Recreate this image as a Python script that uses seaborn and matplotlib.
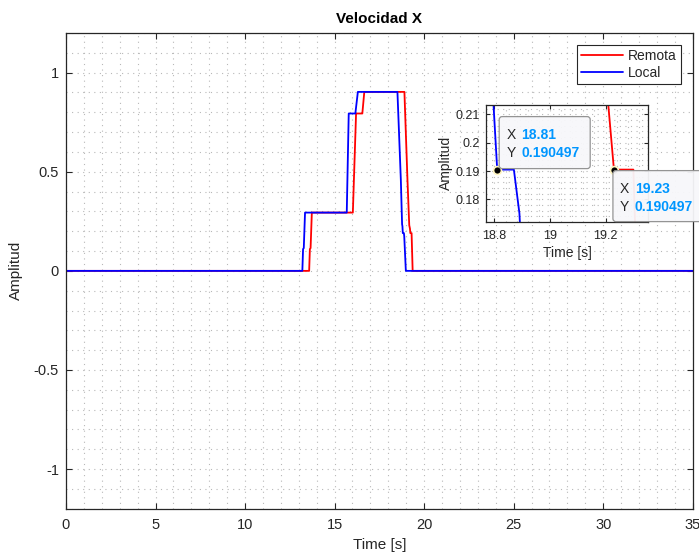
import numpy as np
import pandas as pd
import matplotlib.pyplot as plt
import matplotlib.transforms as mtransforms
from matplotlib.patches import FancyBboxPatch
from matplotlib.ticker import MultipleLocator, AutoMinorLocator, FormatStrFormatter
import seaborn as sns

# señales
time_remota = [0, 13.58, 13.62, 13.66, 13.73, 16.02, 16.20, 16.55, 16.66, 18.90,
               19.07, 19.17, 19.21, 19.23, 19.30, 19.36, 35]
amp_remota = [0, 0, 0.11, 0.115, 0.294, 0.294, 0.794, 0.794, 0.903, 0.903,
              0.46, 0.23, 0.213, 0.190497, 0.190497, 0, 0]
time_local = [0, 13.20, 13.24, 13.28, 13.35, 15.68, 15.79, 16.16, 16.30, 18.51,
              18.70, 18.77, 18.79, 18.81, 18.87, 18.89, 18.98, 35]
amp_local = [0, 0, 0.11, 0.115, 0.294, 0.294, 0.794, 0.794, 0.903, 0.903,
             0.46, 0.235, 0.225, 0.190497, 0.190497, 0.175, 0, 0]
series_names = ['Remota', 'Local']
series_colors = ['#ff0000', '#0000ff']

# data tips
tip_time = [18.81, 19.23]
tip_amp = [0.190497, 0.190497]

sns.set_theme(style='ticks')
plt.rcParams['font.family'] = ['Liberation Sans', 'DejaVu Sans']
plt.rcParams['axes.unicode_minus'] = False

df = pd.concat([
    pd.DataFrame({'Time': time_remota, 'Amplitud': amp_remota, 'Serie': 'Remota'}),
    pd.DataFrame({'Time': time_local, 'Amplitud': amp_local, 'Serie': 'Local'}),
], ignore_index=True)
palette = dict(zip(series_names, series_colors))


def matlab_axes(ax, fs):
    ax.set_facecolor('white')
    ax.grid(True, which='both', linestyle=(0, (1, 4)), color='#b8b8b8', linewidth=0.8)
    ax.tick_params(which='both', direction='in', top=True, right=True,
                   labelsize=fs, colors='#262626', width=0.8)
    ax.tick_params(which='major', length=4)
    ax.tick_params(which='minor', length=0)
    for s in ax.spines.values():
        s.set_visible(True)
        s.set_color('#262626')
        s.set_linewidth(0.9)
    ax.set_axisbelow(True)


fig = plt.figure(figsize=(6.99, 5.55), dpi=100)

# main plot
ax = fig.add_axes([0.0944, 0.0834, 0.8966, 0.8571])
sns.lineplot(data=df, x='Time', y='Amplitud', hue='Serie', hue_order=series_names,
             palette=palette, estimator=None, sort=False, linewidth=1.3, ax=ax)
ax.set_xlim(0, 35)
ax.set_ylim(-1.2, 1.2)
ax.xaxis.set_major_locator(MultipleLocator(5))
ax.yaxis.set_major_locator(MultipleLocator(0.5))
ax.xaxis.set_minor_locator(AutoMinorLocator(5))
ax.yaxis.set_minor_locator(AutoMinorLocator(5))
ax.yaxis.set_major_formatter(FormatStrFormatter('%g'))
matlab_axes(ax, 10.5)
ax.tick_params(axis='x', pad=7)
ax.tick_params(axis='y', pad=5)
ax.set_title('Velocidad X', fontsize=11, fontweight='bold', pad=7, color='black')
ax.set_xlabel('Time [s]', fontsize=11, labelpad=4, color='#262626')
ax.set_ylabel('Amplitud', fontsize=11, labelpad=8, color='#262626')
leg = ax.legend(loc='upper right', fontsize=10, frameon=True, fancybox=False,
                edgecolor='#262626', framealpha=1, borderaxespad=0.85,
                handlelength=3.0, handletextpad=0.35, labelspacing=0.2,
                borderpad=0.3, title=None)
leg.get_frame().set_linewidth(0.8)
for line in leg.get_lines():
    line.set_linewidth(1.3)

# zoom inset
ax_in = fig.add_axes([0.695, 0.6005, 0.2326, 0.2103])
sns.lineplot(data=df, x='Time', y='Amplitud', hue='Serie', hue_order=series_names,
             palette=palette, estimator=None, sort=False, linewidth=1.3,
             legend=False, ax=ax_in)
ax_in.set_xlim(18.769, 19.354)
ax_in.set_ylim(0.1721, 0.2133)
ax_in.set_xticks([18.8, 19.0, 19.2])
ax_in.set_yticks([0.18, 0.19, 0.20, 0.21])
ax_in.xaxis.set_major_formatter(FormatStrFormatter('%g'))
ax_in.yaxis.set_major_formatter(FormatStrFormatter('%g'))
ax_in.xaxis.set_minor_locator(AutoMinorLocator(5))
ax_in.yaxis.set_minor_locator(AutoMinorLocator(5))
matlab_axes(ax_in, 9)
ax_in.tick_params(which='major', length=3)
ax_in.tick_params(axis='x', pad=6)
ax_in.tick_params(axis='y', pad=4)
ax_in.set_xlabel('Time [s]', fontsize=10, labelpad=3, color='#262626')
ax_in.set_ylabel('Amplitud', fontsize=10, labelpad=2, color='#262626')

sns.scatterplot(x=tip_time, y=tip_amp, color='black', edgecolor='#fff5c0',
                linewidth=1.2, s=32, zorder=20, clip_on=False, ax=ax_in)

# data tip boxes, offsets in pixels from the tip point
box_layout = [(2, 1, 91, 52), (-1, -52, 91, 51)]
text_layout = [(9, 24, 35, 17), (6, 21, -19, -37)]
px = mtransforms.Affine2D().scale(0.01) + fig.dpi_scale_trans
for tx, ty, (bx, by, bw, bh), (lx, vx, r1, r2) in zip(tip_time, tip_amp, box_layout, text_layout):
    trans = px + mtransforms.ScaledTranslation(tx, ty, ax_in.transData)
    box = FancyBboxPatch((bx, by), bw, bh, boxstyle='round,pad=0,rounding_size=3',
                         transform=trans, facecolor='#f7f7fa', edgecolor='#8f8f8f',
                         linewidth=0.9, alpha=0.95, zorder=15)
    fig.add_artist(box)
    fig.text(lx, r1, 'X', transform=trans, fontsize=10, color='#262626',
             va='center', ha='left', zorder=16)
    fig.text(lx, r2, 'Y', transform=trans, fontsize=10, color='#262626',
             va='center', ha='left', zorder=16)
    fig.text(vx, r1, f'{tx:g}', transform=trans, fontsize=10, color='#0096ff',
             fontweight='bold', va='center', ha='left', zorder=16)
    fig.text(vx, r2, f'{ty:g}', transform=trans, fontsize=10, color='#0096ff',
             fontweight='bold', va='center', ha='left', zorder=16)

fig.savefig('out.png', dpi=100)
